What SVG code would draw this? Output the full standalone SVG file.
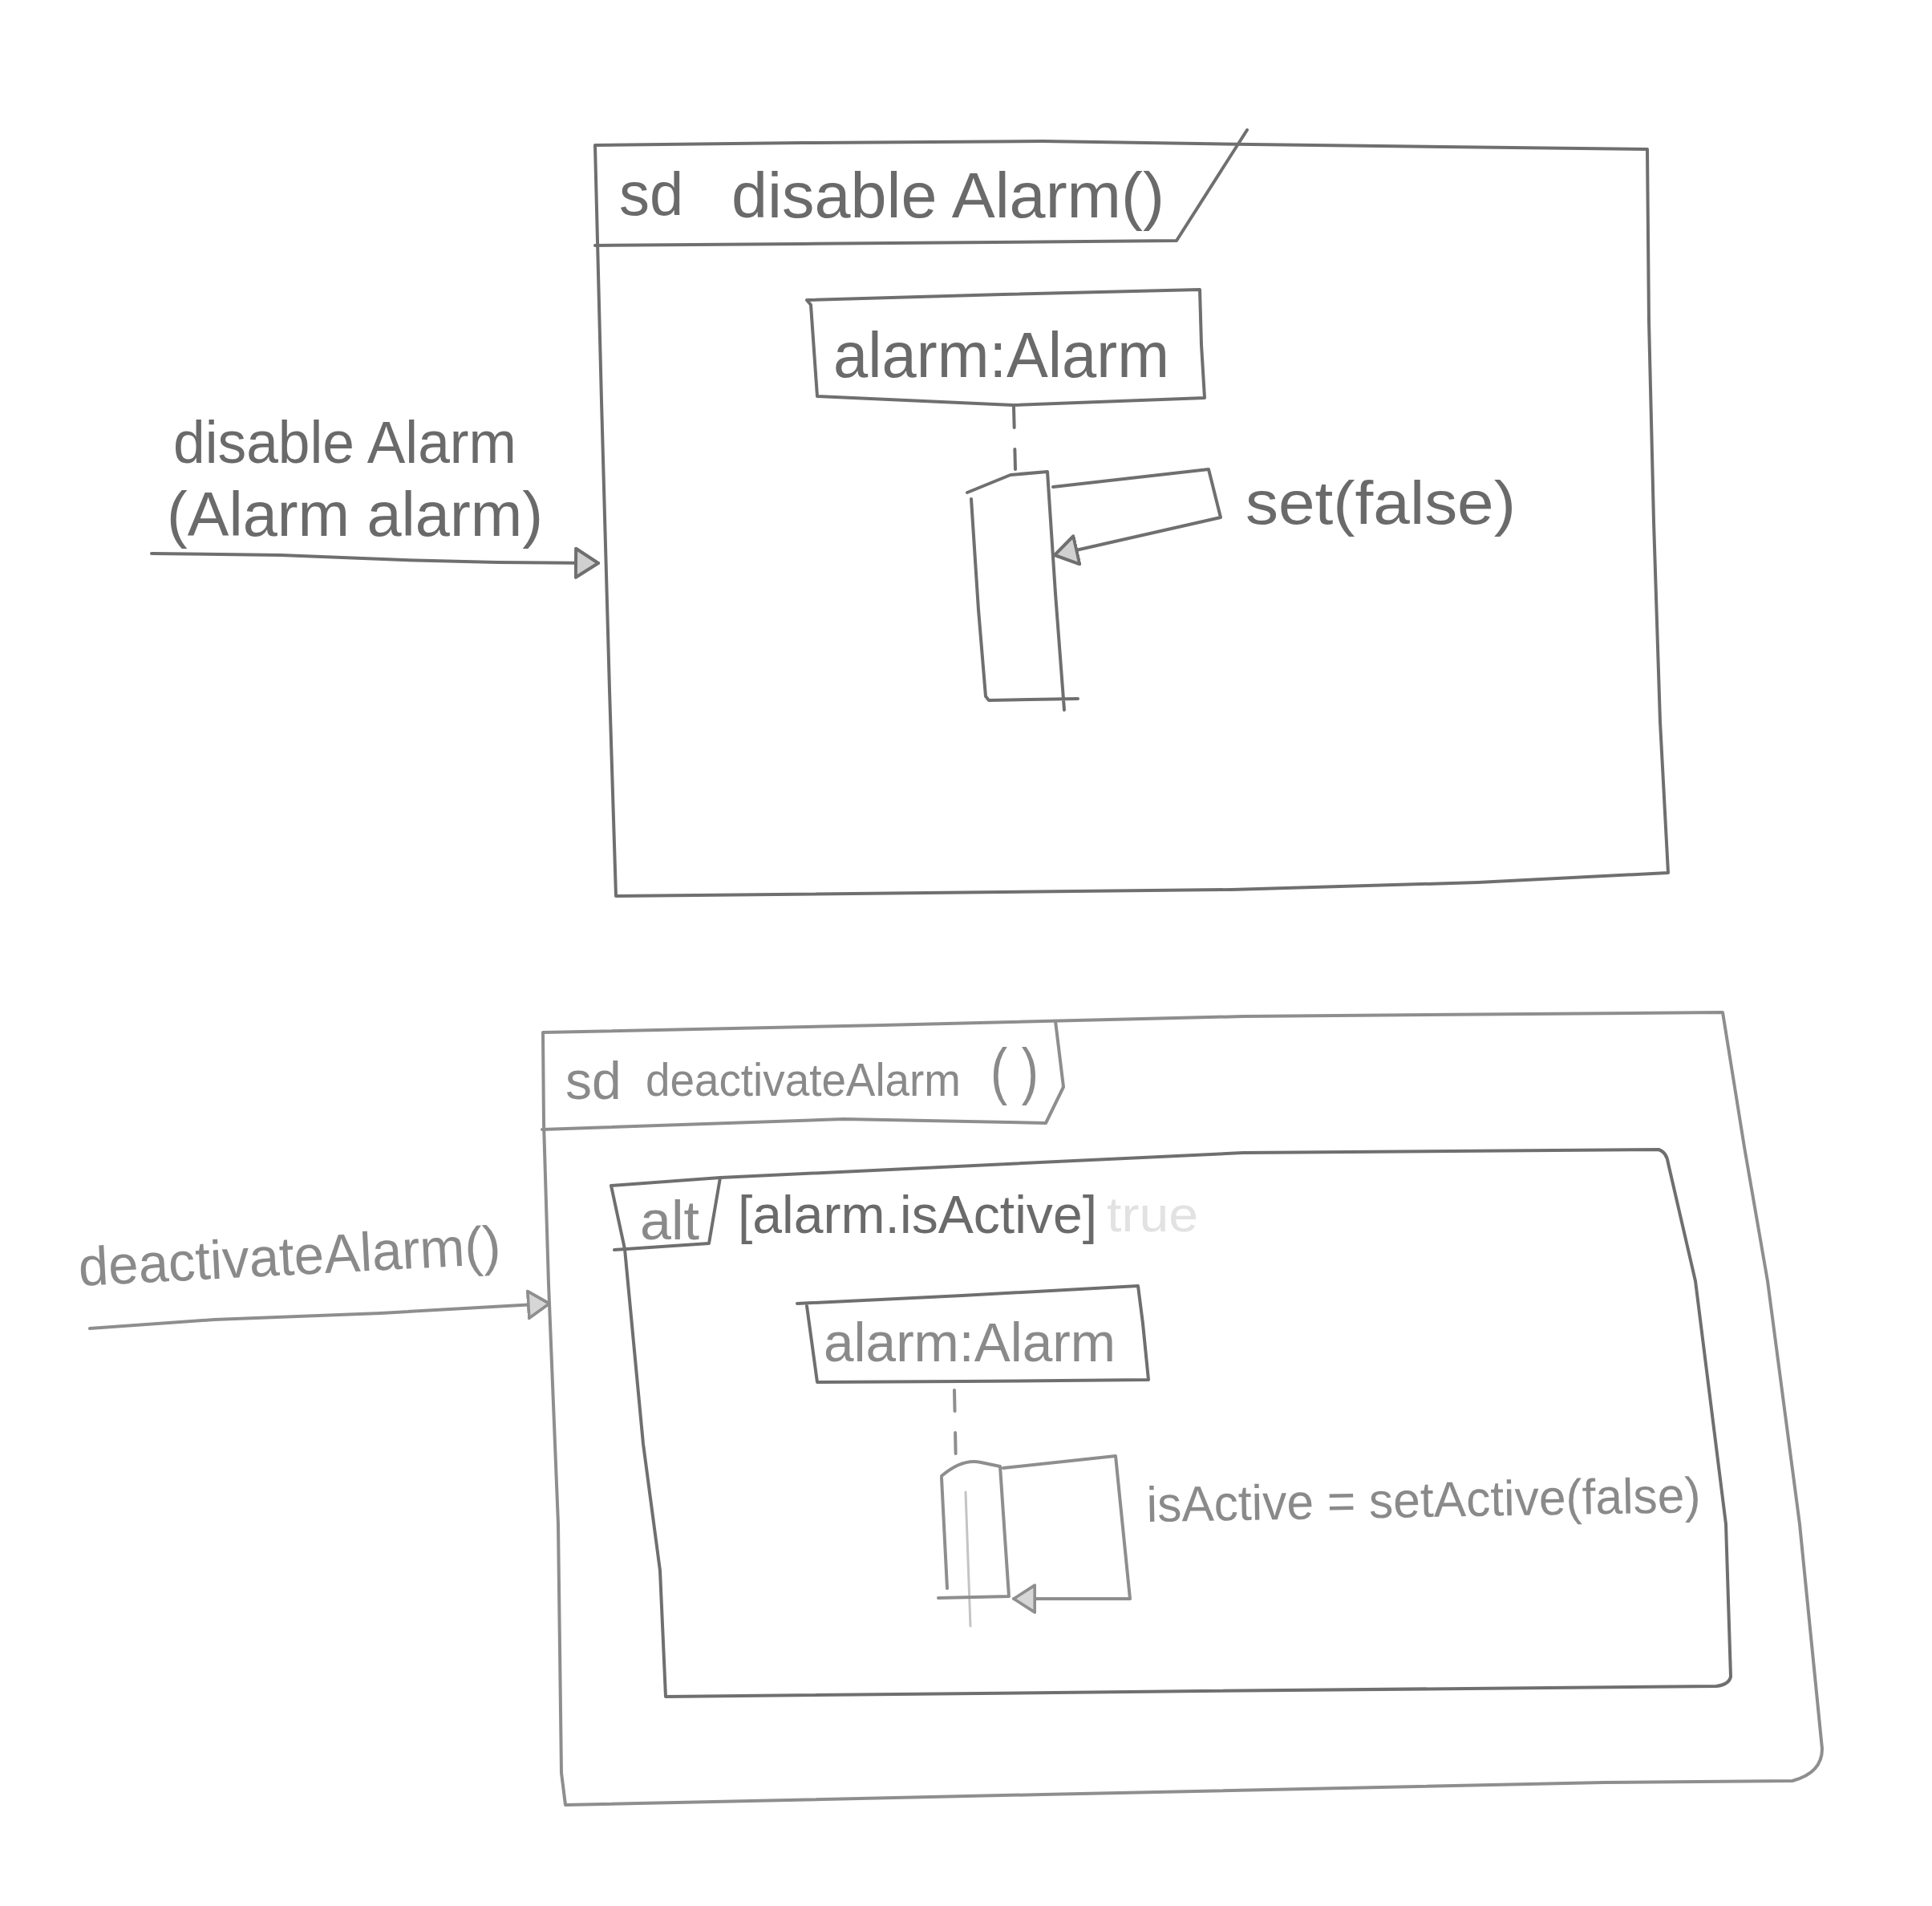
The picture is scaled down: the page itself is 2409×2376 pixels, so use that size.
<svg xmlns="http://www.w3.org/2000/svg" width="2409" height="2376" viewBox="0 0 2409 2376">
<style>
.ln{fill:none;stroke:#6f6f6f;stroke-width:4;stroke-linejoin:round;stroke-linecap:round}
.lt{stroke:#8e8e8e}
.dash{stroke-dasharray:26 27}
.faint{stroke:#c4c4c4;stroke-width:3}
.tx{font-family:"Liberation Sans",Arial,sans-serif;fill:#6a6a6a}
.tl{fill:#8a8a8a}
.ghost{fill:#e2e2e2}
</style>
<defs>
<marker id="arr" viewBox="0 0 16 20" refX="15" refY="10" markerWidth="32" markerHeight="40" markerUnits="userSpaceOnUse" orient="auto">
<path d="M1,1 L15,10 L1,19 Z" fill="#d0d0d0" stroke="#6f6f6f" stroke-width="2" stroke-linejoin="round"/>
</marker>
<marker id="arr2" viewBox="0 0 16 20" refX="15" refY="10" markerWidth="30" markerHeight="44" markerUnits="userSpaceOnUse" orient="auto">
<path d="M1,1 L15,10 L1,19 Z" fill="#d6d6d6" stroke="#8e8e8e" stroke-width="2" stroke-linejoin="round"/>
</marker>
</defs>
<rect width="2409" height="2376" fill="#ffffff"/>

<!-- ===== Diagram 1: sd disableAlarm() ===== -->
<g id="frame-disableAlarm">
<path class="ln" d="M742,181 L1000,178 L1300,176 L1560,180 L1800,183 L2054,186 L2056,400 L2062,650 L2070,900 L2080,1088 L1843,1100 L1536,1109 L768,1117 L760,860 L750,500 Z"/>
<path class="ln" d="M742,306 L1000,304 L1467,300 L1555,162"/>
<text class="tx" x="772" y="268" font-size="76">sd</text>
<text class="tx" x="912" y="271" font-size="80" textLength="540" lengthAdjust="spacingAndGlyphs">disable Alarm()</text>
</g>

<g id="lifeline-alarm-1">
<path class="ln" d="M1006,374 L1250,367 L1496,361 L1498,430 L1502,496 L1263,505 L1019,494 L1011,380 Z"/>
<text class="tx" x="1039" y="470" font-size="80" textLength="419" lengthAdjust="spacingAndGlyphs">alarm:Alarm</text>
<path class="ln dash" d="M1264,507 L1266,585"/>
</g>

<g id="activation-1">
<path class="ln" d="M1206,614 L1260,592 L1306,588 L1316,740 L1327,885 M1211,622 L1220,760 L1229,868 L1233,873 L1344,871"/>
</g>

<g id="label-disableAlarm">
<text class="tx" x="216" y="577" font-size="74" textLength="428" lengthAdjust="spacingAndGlyphs">disable Alarm</text>
<text class="tx" x="208" y="668" font-size="77" textLength="469" lengthAdjust="spacingAndGlyphs">(Alarm alarm)</text>
</g>

<g id="label-set-false">
<text class="tx" x="1553" y="653" font-size="76" textLength="337" lengthAdjust="spacingAndGlyphs">set(false)</text>
</g>

<!-- ===== Diagram 2: sd deactivateAlarm() ===== -->
<g id="frame-deactivateAlarm">
<path class="ln lt" d="M677,1287 L1100,1278 L1550,1267 L2148,1262 L2175,1430 L2204,1597 L2244,1900 L2272,2180 Q2272,2210 2235,2220 L2000,2222 L1300,2237 L705,2250 L700,2210 L696,1900 L684,1600 L678,1400 Z"/>
<path class="ln lt" d="M676,1408 L1052,1395 L1304,1400 L1326,1355 L1316,1273"/>
<text class="tx tl" x="705" y="1370" font-size="66">sd</text>
<text class="tx tl" x="805" y="1366" font-size="58" textLength="393" lengthAdjust="spacingAndGlyphs">deactivateAlarm</text>
<text class="tx tl" x="1235" y="1362" font-size="78" textLength="60" lengthAdjust="spacingAndGlyphs">( )</text>
</g>

<g id="fragment-alt">
<path class="ln" d="M762,1478 L898,1468 L1550,1437 L2068,1433 Q2078,1436 2080,1450 L2114,1597 L2152,1900 L2158,2090 Q2156,2100 2140,2102 L1500,2108 L830,2115 L823,1958 L802,1800 L779,1557 L762,1478 Z"/>
<path class="ln" d="M898,1468 L884,1550 L766,1558"/>
<text class="tx tl" x="798" y="1545" font-size="68" textLength="74" lengthAdjust="spacingAndGlyphs">alt</text>
<text class="tx" x="920" y="1537" font-size="66" textLength="448" lengthAdjust="spacingAndGlyphs">[alarm.isActive]</text>
<text class="tx ghost" x="1380" y="1535" font-size="62" textLength="114" lengthAdjust="spacingAndGlyphs">true</text>
</g>

<g id="lifeline-alarm-2">
<path class="ln" d="M994,1625 L1200,1615 L1419,1603 L1425,1650 L1432,1720 L1200,1722 L1019,1723 L1006,1628"/>
<text class="tx tl" x="1027" y="1697" font-size="68" textLength="364" lengthAdjust="spacingAndGlyphs">alarm:Alarm</text>
<path class="ln lt dash" d="M1190,1733 L1192,1830"/>
<path class="ln faint" d="M1204,1860 L1210,2027"/>
</g>

<g id="activation-2">
<path class="ln lt" d="M1174,1840 Q1200,1818 1223,1823 L1247,1828 M1174,1842 L1181,1980 M1247,1828 L1258,1990 M1170,1992 L1258,1990"/>
</g>

<g id="label-deactivateAlarm">
<text class="tx tl" x="99" y="1603" font-size="68" textLength="527" lengthAdjust="spacingAndGlyphs" transform="rotate(-3 99 1603)">deactivateAlarm()</text>
</g>

<g id="label-setActive">
<text class="tx tl" x="1430" y="1897" font-size="62" textLength="691" lengthAdjust="spacingAndGlyphs" transform="rotate(-1 1430 1897)">isActive = setActive(false)</text>
</g>

<!-- ===== Connectors ===== -->
<g id="connectors">
<path class="ln" d="M189,690 L350,692 L503,698 L620,701 L746,702" marker-end="url(#arr)"/>
<path class="ln" d="M1313,607 L1507,585 L1522,645 L1315,692" marker-end="url(#arr)"/>
<path class="ln lt" d="M112,1656 L267,1645 L475,1637 L685,1625" marker-end="url(#arr2)"/>
<path class="ln lt" d="M1251,1830 L1391,1815 L1409,1993 L1264,1993" marker-end="url(#arr2)"/>
</g>
</svg>
